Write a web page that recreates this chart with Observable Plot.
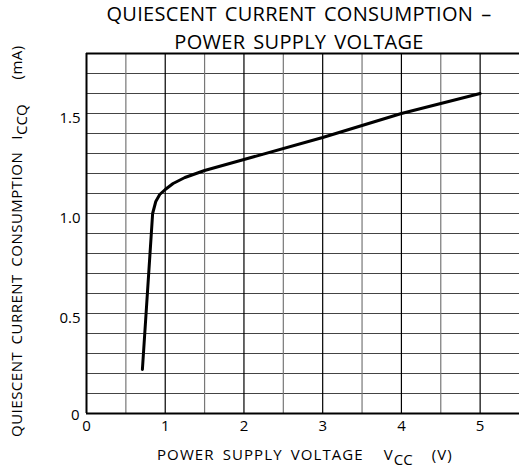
<!DOCTYPE html>
<html><head><meta charset="utf-8">
<script src="https://cdn.jsdelivr.net/npm/d3@7"></script>
<script src="https://cdn.jsdelivr.net/npm/@observablehq/plot@0.6"></script>
<style>
body{margin:0;background:#fff;}
#wrap{position:relative;width:519px;height:476px;font-family:"Open Sans",sans-serif;color:#000;overflow:hidden;}
#wrap svg{position:absolute;left:0;top:0;}
.lbl{position:absolute;white-space:pre;line-height:1;}
#title{left:0;width:598px;top:0px;text-align:center;font-size:20px;line-height:28px;letter-spacing:0.3px;word-spacing:2.5px;}
#xlab{left:157px;top:447px;font-size:15px;letter-spacing:1.1px;word-spacing:3px;}
#ylab{left:9px;top:437px;font-size:15px;letter-spacing:0.5px;word-spacing:3px;transform-origin:0 0;transform:rotate(-90deg);}
sub{font-size:15px;vertical-align:-5px;line-height:0;letter-spacing:0px;}
</style></head>
<body><div id="wrap">
<div id="chart"></div>
<div class="lbl" id="title">QUIESCENT CURRENT CONSUMPTION –
POWER SUPPLY VOLTAGE</div>
<div class="lbl" id="xlab"><span>POWER SUPPLY VOLTAGE</span><span style="margin-left:20px">V<sub>CC</sub></span><span style="margin-left:19px">(V)</span></div>
<div class="lbl" id="ylab"><span>QUIESCENT CURRENT CONSUMPTION</span><span style="margin-left:12px">I<sub>CCQ</sub></span><span style="margin-left:25px">(mA)</span></div>
</div>
<script>
// Data
const vcc  = [0.71, 0.84, 0.88, 0.93, 1.00, 1.10, 1.25, 1.50, 2.00, 3.00, 4.00, 5.00];
const iccq = [0.22, 1.00, 1.06, 1.095, 1.12, 1.15, 1.18, 1.215, 1.27, 1.38, 1.50, 1.60];

const xTicks = [0, 1, 2, 3, 4, 5];
const yTicks = [0, 0.5, 1.0, 1.5];
const yTickLabels = ["0", "0.5", "1.0", "1.5"];
const xGrid = [0.5, 1, 1.5, 2, 2.5, 3, 3.5, 4, 4.5, 5];
const yGrid = [0.1, 0.2, 0.3, 0.4, 0.5, 0.6, 0.7, 0.8, 0.9, 1.0, 1.1, 1.2, 1.3, 1.4, 1.5, 1.6, 1.7];

const data = vcc.map((v, i) => ({v, i: iccq[i]}));
const yLab = yTicks.map((t, k) => ({t, s: yTickLabels[k]}));

const chart = Plot.plot({
  width: 519, height: 476,
  marginTop: 53, marginBottom: 63, marginLeft: 86, marginRight: 0,
  style: {fontFamily: "'Open Sans', sans-serif", fontSize: "15px", color: "#000", background: "#fff"},
  x: {domain: [0, 5.5]},
  y: {domain: [0, 1.8], axis: null},
  marks: [
    Plot.ruleY(yGrid, {stroke: "#444", strokeWidth: 1}),
    Plot.ruleX(xGrid, {stroke: d => Number.isInteger(d) ? "#000" : "#777", strokeWidth: 1.2}),
    Plot.ruleY([1.8], {stroke: "#000", strokeWidth: 2}),
    Plot.ruleY([0], {stroke: "#000", strokeWidth: 2}),
    Plot.ruleX([0], {stroke: "#000", strokeWidth: 2}),
    Plot.axisX({ticks: xTicks, tickSize: 0, tickPadding: 7, tickFormat: d => String(d), fontSize: 15, label: null}),
    Plot.text(yLab.filter(d => d.t !== 0), {y: "t", text: "s", frameAnchor: "left", dx: -6, textAnchor: "end", lineAnchor: "top", dy: -1, fontSize: 15}),
    Plot.text(yLab.filter(d => d.t === 0), {y: "t", text: "s", frameAnchor: "left", dx: -7, textAnchor: "end", lineAnchor: "bottom", dy: 6, fontSize: 15}),
    Plot.line(data, {x: "v", y: "i", stroke: "#000", strokeWidth: 3, strokeLinejoin: "round", curve: "linear"})
  ]
});
document.getElementById("chart").appendChild(chart);
</script>
</body></html>
